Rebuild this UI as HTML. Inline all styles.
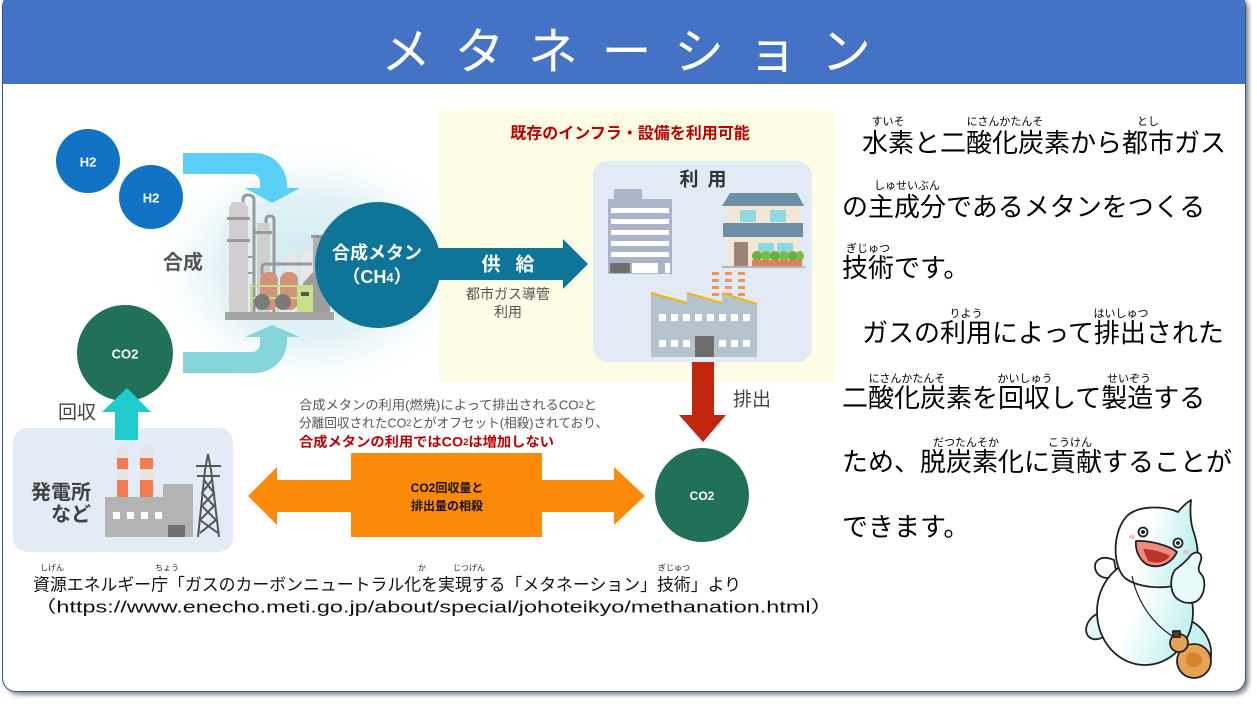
<!DOCTYPE html>
<html><head><meta charset="utf-8">
<style>
html,body{margin:0;padding:0;width:1257px;height:704px;overflow:hidden;background:#fff;}
body{position:relative;font-family:"Liberation Sans","Noto Sans CJK JP",sans-serif;}
#frame{position:absolute;left:2px;top:-7px;width:1242px;height:697px;border:1.5px solid #2F5597;border-radius:14px;background:#fff;box-shadow:3px 3px 4px rgba(0,0,0,0.45);overflow:hidden;}
#hdr{position:absolute;left:0;top:0;width:100%;height:90px;background:#4472C4;}
#title{position:absolute;left:381px;top:23px;font-size:50px;line-height:50px;color:#fff;letter-spacing:23.5px;white-space:nowrap;font-family:"Noto Sans CJK JP",sans-serif;font-weight:400;}
svg{position:absolute;left:0;top:0;}
.ln{position:absolute;font-size:26px;line-height:36px;white-space:nowrap;color:#000;font-family:"Liberation Sans","Noto Sans CJK JP",sans-serif;}
.rb{position:absolute;font-size:11px;line-height:12px;white-space:nowrap;transform:translateX(-50%);color:#000;font-family:"Noto Sans CJK JP",sans-serif;}
</style></head><body>
<div id="frame"><div id="hdr"></div></div>
<div id="title">メタネーション</div>

<svg width="1257" height="704" viewBox="0 0 1257 704" font-family='"Liberation Sans","Noto Sans CJK JP",sans-serif'>
<defs>
<radialGradient id="glow" cx="50%" cy="50%" r="50%">
<stop offset="0" stop-color="#cfe8f0"/>
<stop offset="0.55" stop-color="#dcf0f4" stop-opacity="0.85"/>
<stop offset="1" stop-color="#ffffff" stop-opacity="0"/>
</radialGradient>
<linearGradient id="mh" x1="0" y1="0" x2="1" y2="0.3">
<stop offset="0.45" stop-color="#ffffff"/><stop offset="1" stop-color="#bff0f0"/>
</linearGradient>
<linearGradient id="mb" x1="0" y1="0" x2="1" y2="0.5">
<stop offset="0.5" stop-color="#ffffff"/><stop offset="1" stop-color="#c4f1f1"/>
</linearGradient>
</defs>

<ellipse cx="310" cy="268" rx="165" ry="132" fill="url(#glow)"/>
<rect x="439" y="109" width="395" height="273" fill="#FDFDE5"/>

<circle cx="88" cy="161" r="32" fill="#1272C4"/>
<text x="88" y="162" font-size="13" font-weight="bold" fill="#fff" text-anchor="middle" dominant-baseline="central">H2</text>
<circle cx="151" cy="197" r="32" fill="#1272C4"/>
<text x="151" y="198" font-size="13" font-weight="bold" fill="#fff" text-anchor="middle" dominant-baseline="central">H2</text>
<circle cx="125" cy="353" r="48" fill="#21705A"/>
<text x="125" y="354" font-size="13" font-weight="bold" fill="#fff" text-anchor="middle" dominant-baseline="central">CO2</text>

<path d="M183,153 H255 A32,32 0 0 1 287,185 V188 H300 L272,203 L245,188 H260 V182 A8,8 0 0 0 252,174 H183 Z" fill="#5ACFF7"/>
<path d="M183,373 H255 A32,32 0 0 0 287,341 V337 H300 L272,325 L245,337 H260 V344 A8,8 0 0 1 252,352 H183 Z" fill="#85D5DA"/>

<text x="183" y="263" font-size="20" font-weight="bold" fill="#555" text-anchor="middle" dominant-baseline="central">合成</text>

<path d="M243,208 V200 Q243,195 248,195 Q254,195 254,200 V313" fill="none" stroke="#9a9a9a" stroke-width="3"/>
<path d="M266,225 V220 Q266,216 270,216 Q274,216 274,220 V313" fill="none" stroke="#9a9a9a" stroke-width="3"/>
<rect x="229" y="206" width="19" height="107" fill="#cfcfcf"/>
<rect x="231" y="202" width="15" height="5" rx="2" fill="#cfcfcf"/>
<rect x="227" y="217" width="23" height="3" fill="#999"/>
<rect x="227" y="239" width="23" height="3" fill="#999"/>
<rect x="248" y="256" width="7" height="2" fill="#999"/>
<rect x="248" y="272" width="7" height="2" fill="#999"/>
<rect x="257" y="223" width="13" height="90" fill="#cfcfcf"/>
<rect x="255" y="231" width="17" height="3" fill="#999"/>
<rect x="286" y="250" width="11" height="40" rx="5" fill="#e8e8e8"/>
<rect x="301" y="250" width="11" height="40" rx="5" fill="#e8e8e8"/>
<path d="M262,275 V268 Q262,264 266,264 H312" stroke="#999" stroke-width="3" fill="none"/>
<rect x="260" y="272" width="18" height="38" rx="8" fill="#d29479"/>
<rect x="280" y="272" width="18" height="38" rx="8" fill="#d29479"/>
<rect x="313" y="238" width="12" height="75" fill="#b0b0b0"/>
<rect x="311" y="235" width="16" height="3" fill="#999"/>
<path d="M303,313 V283 L312,273 H330 V313 Z" fill="#9e9e9e"/>
<rect x="250" y="285" width="48" height="2" fill="#c6df86"/>
<rect x="250" y="297" width="48" height="2" fill="#c6df86"/>
<rect x="250" y="285" width="2" height="28" fill="#c6df86"/>
<rect x="277" y="285" width="2" height="28" fill="#c6df86"/>
<rect x="297" y="285" width="16" height="28" fill="#c8e08c"/>
<rect x="301" y="292" width="8" height="4" fill="#555"/>
<circle cx="262" cy="302" r="8" fill="#7a7a7a"/>
<circle cx="283" cy="302" r="8" fill="#7a7a7a"/>
<rect x="225" y="312" width="109" height="8" fill="#a5a5a5"/>

<path d="M420,248 H563 V239 L588,264 L563,289 V280 H420 Z" fill="#0E7498"/>
<circle cx="378" cy="265" r="63" fill="#0E7498"/>
<text x="377" y="253" font-size="18" font-weight="bold" fill="#fff" text-anchor="middle" dominant-baseline="central">合成メタン</text>
<text x="377" y="277" font-size="18" font-weight="bold" fill="#fff" text-anchor="middle" dominant-baseline="central">（CH<tspan font-size="13">4</tspan>）</text>
<text x="508" y="265" font-size="19" font-weight="bold" fill="#fff" text-anchor="middle" dominant-baseline="central" textLength="53" lengthAdjust="spacing">供 給</text>
<text x="508" y="294" font-size="14" fill="#555" text-anchor="middle" dominant-baseline="central">都市ガス導管</text>
<text x="508" y="312" font-size="14" fill="#555" text-anchor="middle" dominant-baseline="central">利用</text>

<text x="630" y="134" font-size="16" font-weight="bold" fill="#C00000" text-anchor="middle" dominant-baseline="central">既存のインフラ・設備を利用可能</text>

<rect x="593" y="161" width="219" height="201" rx="15" fill="#E2EBF5"/>
<text x="703" y="180" font-size="19" font-weight="bold" fill="#333" text-anchor="middle" dominant-baseline="central" textLength="47" lengthAdjust="spacing">利 用</text>
<rect x="614" y="189" width="28" height="11" fill="#A9B4CB"/>
<rect x="608" y="199" width="64" height="75" fill="#A9B4CB"/>
<rect x="611" y="208" width="58" height="5" fill="#fff"/>
<rect x="611" y="219" width="58" height="5" fill="#fff"/>
<rect x="611" y="230" width="58" height="5" fill="#fff"/>
<rect x="611" y="241" width="58" height="5" fill="#fff"/>
<rect x="611" y="252" width="58" height="5" fill="#fff"/>
<rect x="610" y="263" width="20" height="10" fill="#6f6f6f"/>
<rect x="632" y="263" width="26" height="10" fill="#fff"/>
<rect x="665" y="263" width="5" height="10" fill="#fff"/>
<path d="M722,206 L730,193 H797 L804,206 Z" fill="#6E8FA3"/>
<rect x="727" y="206" width="73" height="60" fill="#F1E7D4"/>
<rect x="740" y="210" width="16" height="12" fill="#8ED8E0"/>
<rect x="770" y="210" width="16" height="12" fill="#8ED8E0"/>
<rect x="723" y="223" width="80" height="14" fill="#6E8FA3"/>
<rect x="734" y="242" width="14" height="24" fill="#9C8574"/>
<rect x="758" y="243" width="16" height="10" fill="#8ED8E0"/>
<rect x="777" y="243" width="16" height="10" fill="#8ED8E0"/>
<ellipse cx="757" cy="256" rx="5" ry="5" fill="#6FAE3C"/>
<ellipse cx="766" cy="256" rx="5" ry="5" fill="#7CBB45"/>
<ellipse cx="775" cy="256" rx="5" ry="5" fill="#6FAE3C"/>
<ellipse cx="784" cy="256" rx="5" ry="5" fill="#7CBB45"/>
<ellipse cx="793" cy="256" rx="5" ry="5" fill="#6FAE3C"/>
<ellipse cx="800" cy="256" rx="4" ry="5" fill="#7CBB45"/>
<rect x="752" y="260" width="50" height="6" fill="#D98060"/>
<rect x="722" y="266" width="83" height="2" fill="#b5b5b5"/>
<g fill="#F4945A">
<rect x="712" y="272" width="7" height="3"/><rect x="712" y="279" width="7" height="3"/><rect x="712" y="286" width="7" height="3"/><rect x="712" y="293" width="7" height="3"/>
<rect x="725" y="272" width="7" height="3"/><rect x="725" y="279" width="7" height="3"/><rect x="725" y="286" width="7" height="3"/><rect x="725" y="293" width="7" height="3"/>
<rect x="738" y="272" width="7" height="3"/><rect x="738" y="279" width="7" height="3"/><rect x="738" y="286" width="7" height="3"/><rect x="738" y="293" width="7" height="3"/>
</g>
<path d="M651,293 L687,303 V293 L722,303 V293 L757,304 V357 H651 Z" fill="#B4C3CE"/>
<path d="M651,293 L687,303 M687,293 L722,303 M722,293 L757,304" stroke="#F5B800" stroke-width="2" fill="none"/>
<g fill="#fff">
<rect x="659" y="314" width="7" height="7"/><rect x="671" y="314" width="7" height="7"/><rect x="683" y="314" width="7" height="7"/><rect x="695" y="314" width="7" height="7"/><rect x="707" y="314" width="7" height="7"/><rect x="719" y="314" width="7" height="7"/><rect x="731" y="314" width="7" height="7"/><rect x="743" y="314" width="7" height="7"/>
<rect x="659" y="340" width="7" height="7"/><rect x="671" y="340" width="7" height="7"/><rect x="683" y="340" width="7" height="7"/>
<rect x="719" y="340" width="7" height="7"/><rect x="731" y="340" width="7" height="7"/><rect x="743" y="340" width="7" height="7"/>
</g>
<rect x="695" y="336" width="19" height="21" fill="#6D6D6D"/>

<path d="M692,362 H714 V415 H726 L703,442 L679,415 H692 Z" fill="#C1270E"/>
<text x="733" y="400" font-size="19" fill="#444" dominant-baseline="central">排出</text>
<circle cx="702" cy="495" r="47" fill="#21705A"/>
<text x="702" y="496" font-size="12" font-weight="bold" fill="#fff" text-anchor="middle" dominant-baseline="central">CO2</text>

<text x="299" y="405" font-size="13" fill="#555" dominant-baseline="central" textLength="298" lengthAdjust="spacingAndGlyphs">合成メタンの利用(燃焼)によって排出されるCO<tspan font-size="9">2</tspan>と</text>
<text x="299" y="423" font-size="13" fill="#555" dominant-baseline="central" textLength="309" lengthAdjust="spacingAndGlyphs">分離回収されたCO<tspan font-size="9">2</tspan>とがオフセット(相殺)されており、</text>
<text x="299" y="442" font-size="13.5" font-weight="bold" fill="#C00000" dominant-baseline="central" textLength="255" lengthAdjust="spacingAndGlyphs">合成メタンの利用ではCO<tspan font-size="9">2</tspan>は増加しない</text>

<path d="M248,496 L277,467 V480 H351 V453 H542 V480 H614 V467 L645,496 L614,525 V512 H542 V537 H351 V512 H277 V525 Z" fill="#FA8A07"/>
<text x="447" y="488" font-size="12" font-weight="bold" fill="#111" text-anchor="middle" dominant-baseline="central">CO2回収量と</text>
<text x="447" y="506" font-size="12" font-weight="bold" fill="#111" text-anchor="middle" dominant-baseline="central">排出量の相殺</text>

<rect x="13" y="428" width="220" height="124" rx="14" fill="#E3ECF6"/>
<text x="91" y="493" font-size="20" font-weight="bold" fill="#404040" text-anchor="end" dominant-baseline="central">発電所</text>
<text x="91" y="515" font-size="20" font-weight="bold" fill="#404040" text-anchor="end" dominant-baseline="central">など</text>
<rect x="117" y="447" width="11" height="11" fill="#e4e4e4"/><rect x="117" y="458" width="11" height="11" fill="#F47B50"/><rect x="117" y="469" width="11" height="11" fill="#e4e4e4"/><rect x="117" y="480" width="11" height="17" fill="#F47B50"/>
<rect x="140" y="447" width="13" height="11" fill="#e4e4e4"/><rect x="140" y="458" width="13" height="11" fill="#F47B50"/><rect x="140" y="469" width="13" height="11" fill="#e4e4e4"/><rect x="140" y="480" width="13" height="17" fill="#F47B50"/>
<rect x="105" y="497" width="60" height="40" fill="#B3B3B3"/>
<rect x="163" y="484" width="30" height="53" fill="#B3B3B3"/>
<g fill="#fff"><rect x="113" y="512" width="7" height="7"/><rect x="127" y="512" width="7" height="7"/><rect x="141" y="512" width="7" height="7"/><rect x="155" y="512" width="7" height="7"/></g>
<rect x="168" y="525" width="17" height="12" fill="#707070"/>
<g stroke="#555" stroke-width="2" fill="none">
<path d="M198,537 L205,470 L208,454 L211,470 L219,537"/>
<path d="M196,466 H221 M197,476 H220"/>
<path d="M204,480 L214,493 L202,506 L216,520 L200,533 M212,480 L202,493 L214,506 L200,520 L218,533"/>
</g>

<path d="M115,440 V412 H102 L127,388 L151,412 H138 V440 Z" fill="#21CACB"/>
<text x="58" y="413" font-size="19" fill="#444" dominant-baseline="central">回収</text>

<g font-size="8" fill="#222" text-anchor="middle" font-family='"Noto Sans CJK JP",sans-serif'>
<text x="52" y="568" dominant-baseline="central">しげん</text>
<text x="167" y="568" dominant-baseline="central">ちょう</text>
<text x="422" y="568" dominant-baseline="central">か</text>
<text x="469" y="568" dominant-baseline="central">じつげん</text>
<text x="674" y="568" dominant-baseline="central">ぎじゅつ</text>
</g>
<text x="33" y="585" font-size="17" fill="#111" dominant-baseline="central" textLength="708" lengthAdjust="spacingAndGlyphs">資源エネルギー庁「ガスのカーボンニュートラル化を実現する「メタネーション」技術」より</text>
<text x="33" y="607" font-size="17" fill="#111" dominant-baseline="central" textLength="801" lengthAdjust="spacingAndGlyphs">（https://www.enecho.meti.go.jp/about/special/johoteikyo/methanation.html）</text>

<g stroke="#222" stroke-width="1.8" stroke-linejoin="round">
<path d="M1114,560 C1100,554 1092,562 1096,571 C1099,578 1108,580 1117,576 Z" fill="#fff"/>
<path d="M1102,612 C1088,616 1082,630 1089,637 C1097,643 1108,636 1113,627 Z" fill="#e6fafa"/>
<path d="M1183,618 C1205,624 1216,646 1209,665 C1201,673 1188,668 1181,655 Z" fill="#c9f1f1"/>
<ellipse cx="1145" cy="612" rx="48" ry="53" fill="url(#mb)"/>
<path d="M1128,515 C1140,505 1165,506 1178,512 C1182,507 1186,503 1191,500 C1190,510 1190,520 1193,530 C1200,550 1200,570 1188,580 C1175,590 1140,590 1125,578 C1112,566 1112,530 1128,515 Z" fill="url(#mh)"/>
<circle cx="1143" cy="532" r="4.5" fill="#fff"/>
<circle cx="1143" cy="532" r="2" fill="#222" stroke="none"/>
<circle cx="1178" cy="543" r="4.5" fill="#fff"/>
<circle cx="1178" cy="543" r="2" fill="#222" stroke="none"/>
<ellipse cx="1132" cy="537" rx="3" ry="2" fill="#f6b8c8" stroke="none"/>
<ellipse cx="1186" cy="552" rx="3" ry="2" fill="#f6b8c8" stroke="none"/>
<path d="M1136,541 C1150,540 1170,546 1177,552 C1172,563 1160,569 1148,565 C1140,561 1135,551 1136,541 Z" fill="#f08a7a"/>
<path d="M1143,549 C1153,549 1165,553 1170,556 C1165,563 1155,564 1148,561 Z" fill="#b8342a" stroke="none"/>
<path d="M1175,570 C1180,566 1186,562 1190,556 C1195,550 1203,552 1201,560 C1199,566 1197,570 1201,574 C1207,580 1205,598 1195,602 C1185,605 1174,600 1172,590 C1170,582 1172,574 1175,570 Z" fill="#e8fbfb"/>
<path d="M1132,576 C1138,605 1155,625 1172,636" fill="none" stroke-width="1.2"/>
<circle cx="1194" cy="661" r="17" fill="#E6A255"/>
<circle cx="1179" cy="643" r="9" fill="#E6A255"/>
<rect x="1173" y="631" width="7" height="6" fill="#6b3a1a"/>
<path d="M1186,655 C1192,650 1200,652 1203,660 C1200,668 1190,670 1186,663 Z" fill="#d8842e" stroke="none"/>
</g>
</svg>

<div class="ln" style="left:862px;top:125px;">水素と二酸化炭素から都市ガス</div>
<div class="rb" style="left:888px;top:115px;">すいそ</div>
<div class="rb" style="left:1005px;top:115px;">にさんかたんそ</div>
<div class="rb" style="left:1148px;top:115px;">とし</div>

<div class="ln" style="left:842px;top:189px;">の主成分であるメタンをつくる</div>
<div class="rb" style="left:907px;top:179px;">しゅせいぶん</div>

<div class="ln" style="left:842px;top:250px;">技術です。</div>
<div class="rb" style="left:868px;top:242px;">ぎじゅつ</div>

<div class="ln" style="left:862px;top:315px;">ガスの利用によって排出された</div>
<div class="rb" style="left:966px;top:307px;">りよう</div>
<div class="rb" style="left:1121px;top:307px;">はいしゅつ</div>

<div class="ln" style="left:842px;top:380px;">二酸化炭素を回収して製造する</div>
<div class="rb" style="left:907px;top:372px;">にさんかたんそ</div>
<div class="rb" style="left:1025px;top:372px;">かいしゅう</div>
<div class="rb" style="left:1129px;top:372px;">せいぞう</div>

<div class="ln" style="left:842px;top:444px;">ため、脱炭素化に貢献することが</div>
<div class="rb" style="left:966px;top:436px;">だつたんそか</div>
<div class="rb" style="left:1070px;top:436px;">こうけん</div>

<div class="ln" style="left:842px;top:509px;">できます。</div>
</body></html>
